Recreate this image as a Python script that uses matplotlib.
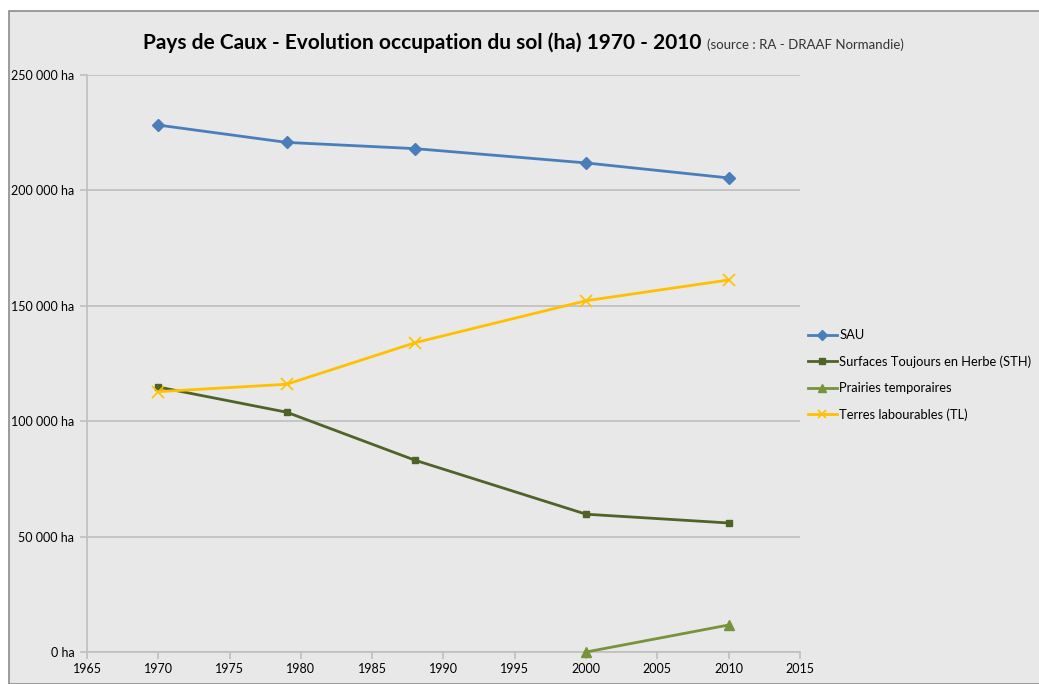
import matplotlib
matplotlib.use("Agg")
import matplotlib.pyplot as plt
from matplotlib.patches import Rectangle
from matplotlib.ticker import FuncFormatter, MultipleLocator

plt.rcParams['font.family'] = ['Lato', 'DejaVu Sans']

years = [1970, 1979, 1988, 2000, 2010]
sau = [228300, 220800, 218100, 211900, 205400]
sth = [114800, 103900, 83100, 59700, 55900]
pt_years = [2000, 2010]
prairies = [0, 11700]
tl = [112800, 116000, 134000, 152200, 161200]

labels = ["SAU", "Surfaces Toujours en Herbe (STH)", "Prairies temporaires", "Terres labourables (TL)"]
colors = ["#4a7ebb", "#4f6228", "#77933c", "#ffc000"]

W, H = 1039, 684
fig = plt.figure(figsize=(W/100, H/100), dpi=100, facecolor="white")
bg = Rectangle((9/W, 0), 1 - 9/W + 0.01, 1 - 11/H, transform=fig.transFigure,
               facecolor="#e8e8e8", edgecolor="#8c8c8c", linewidth=1.2, zorder=-10)
fig.patches.append(bg)

ax = fig.add_axes([87/W, 1 - 652/H, (800-87)/W, (652-75)/H])
ax.set_zorder(1)
ax.set_facecolor("none")

ax.plot(years, sau, color=colors[0], lw=2.0, marker="D", ms=6, label=labels[0], zorder=3)
ax.plot(years, sth, color=colors[1], lw=2.0, marker="s", ms=5, label=labels[1], zorder=3)
ax.plot(pt_years, prairies, color=colors[2], lw=2.0, marker="^", ms=6.5, label=labels[2], zorder=3, clip_on=False)
ax.plot(years, tl, color=colors[3], lw=2.0, marker="x", ms=8, mew=1.2, label=labels[3], zorder=3)

ax.set_xlim(1965, 2015)
ax.set_ylim(0, 250000)
ax.xaxis.set_major_locator(MultipleLocator(5))
ax.yaxis.set_major_locator(MultipleLocator(50000))
ax.yaxis.set_major_formatter(FuncFormatter(lambda v, p: f"{int(v):,} ha".replace(",", " ")))
ax.grid(axis="y", color="#bfbfbf", lw=1.2)
ax.set_axisbelow(True)
for s in ["top", "right"]:
    ax.spines[s].set_visible(False)
for s in ["left", "bottom"]:
    ax.spines[s].set_color("#bfbfbf")
    ax.spines[s].set_linewidth(1.2)
ax.tick_params(axis="both", colors="#bfbfbf", length=5, width=1.2, labelcolor="#000000", labelsize=9)
ax.tick_params(axis="y", pad=4)
ax.tick_params(axis="x", pad=3)

fig.text(143/W, 1 - 43/H, "Pays de Caux - Evolution occupation du sol (ha) 1970 - 2010", fontsize=15,
         fontweight="bold", va="center", ha="left")
fig.text(707/W, 1 - 45/H, "(source : RA - DRAAF Normandie)", fontsize=9.5, va="center", ha="left", color="#333333")

leg = fig.legend(loc="upper left", bbox_to_anchor=(803/W, 1 - 324/H), frameon=False,
                 fontsize=9.3, handlelength=2.2, labelspacing=1.1, handletextpad=0.2,
                 borderaxespad=0, markerscale=0.8)

fig.savefig("out.png", dpi=100, facecolor="white")
